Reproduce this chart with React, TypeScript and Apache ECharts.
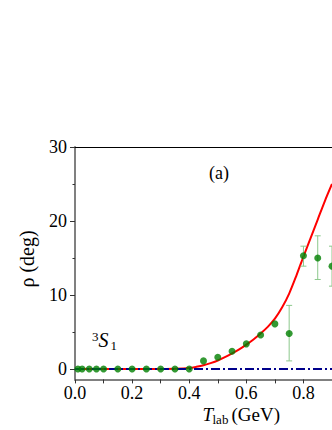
import React, { useEffect, useRef } from "react";
import * as echarts from "echarts";

const xTickLabels = [0, 0.2, 0.4, 0.6, 0.8];
const xTicks = [0, 0.1, 0.2, 0.3, 0.4, 0.5, 0.6, 0.7, 0.8, 0.9];
const yTickLabels = [0, 10, 20, 30];
const yMinorTicks = [5, 15, 25];

const dataX = [0.01, 0.025, 0.05, 0.075, 0.1, 0.15, 0.2, 0.25, 0.3, 0.35, 0.4, 0.45, 0.5, 0.55, 0.6, 0.65, 0.7, 0.75, 0.8, 0.85, 0.9];
const dataY = [0, 0, 0, 0, 0, 0, 0, 0, 0, 0, 0, 1.1, 1.6, 2.4, 3.4, 4.6, 6.1, 4.8, 15.3, 15.0, 13.9];

const errX = [0.75, 0.8, 0.85, 0.9];
const errLow = [1.1, 13.9, 12.1, 11.2];
const errHigh = [8.6, 16.6, 18.0, 16.6];

const curveX = [0, 0.1, 0.2, 0.3, 0.35, 0.4, 0.425, 0.45, 0.475, 0.5, 0.525, 0.55, 0.575, 0.6, 0.625, 0.65, 0.675, 0.7, 0.725, 0.75, 0.775, 0.8, 0.825, 0.85, 0.875, 0.9];
const curveY = [0, 0, 0, 0.02, 0.05, 0.15, 0.3, 0.5, 0.8, 1.15, 1.6, 2.1, 2.65, 3.3, 4.0, 4.8, 5.7, 6.8, 8.3, 10.2, 12.6, 15.2, 17.7, 20.2, 22.7, 25.0];

const refX = [0, 0.9];
const refY = [0, 0];

const FONT = "Liberation Serif";

export default function App() {
  const ref = useRef<HTMLDivElement>(null);
  useEffect(() => {
    if (!ref.current) return;
    const chart = echarts.init(ref.current, null, { renderer: "svg" });
    const errColor = "#8cc88c";
    const txt = (x: number, y: number, text: string, size: number, extra: any = {}) => ({
      type: "text",
      x,
      y,
      rotation: extra.rotation || 0,
      style: {
        text,
        font: `${extra.italic ? "italic " : ""}${size}px ${FONT}`,
        fill: "#000",
        align: extra.align || "left",
        verticalAlign: "middle",
      },
    });
    chart.setOption({
      animation: false,
      backgroundColor: "#ffffff",
      textStyle: { fontFamily: FONT },
      grid: { left: 75, top: 147, right: 0, bottom: 50.6 },
      xAxis: [
        {
          type: "value",
          position: "bottom",
          min: 0,
          max: 0.9,
          splitLine: { show: false },
          axisLine: { show: true, onZero: false, lineStyle: { color: "#808080", width: 2 } },
          axisTick: { show: true, customValues: xTicks, length: 4, lineStyle: { color: "#333", width: 1 } },
          axisLabel: {
            customValues: xTickLabels,
            formatter: (v: number) => v.toFixed(1),
            color: "#000",
            fontFamily: FONT,
            fontSize: 18,
            margin: 5,
          },
        },
        {
          type: "value",
          position: "top",
          min: 0,
          max: 0.9,
          splitLine: { show: false },
          axisLine: { show: true, onZero: false, lineStyle: { color: "#000", width: 1 } },
          axisTick: { show: false },
          axisLabel: { show: false },
        },
      ],
      yAxis: [
        {
          type: "value",
          min: -1.4,
          max: 30,
          splitLine: { show: false },
          axisLine: { show: true, onZero: false, lineStyle: { color: "#808080", width: 2 } },
          axisTick: { show: true, customValues: yTickLabels, length: 5, lineStyle: { color: "#333", width: 1 } },
          axisLabel: {
            customValues: yTickLabels,
            color: "#000",
            fontFamily: FONT,
            fontSize: 18,
            margin: 8,
          },
        },
        {
          type: "value",
          position: "left",
          min: -1.4,
          max: 30,
          splitLine: { show: false },
          axisLine: { show: false },
          axisTick: { show: true, customValues: yMinorTicks, length: 2.5, lineStyle: { color: "#333", width: 1 } },
          axisLabel: { show: false },
        },
      ],
      graphic: [
        txt(219, 173, "(a)", 18, { align: "center" }),
        txt(92, 336, "3", 13),
        txt(98.5, 340, "S", 20, { italic: true }),
        txt(110.5, 345, "1", 13),
        txt(27, 259, "ρ (deg)", 20, { align: "center", rotation: Math.PI / 2 }),
        txt(202.5, 414, "T", 19, { italic: true }),
        txt(212.5, 419, "lab", 13),
        txt(231.5, 414, "(GeV)", 19),
      ],
      series: [
        {
          name: "theory",
          type: "line",
          xAxisIndex: 0,
          yAxisIndex: 0,
          data: curveX.map((x, i) => [x, curveY[i]]),
          smooth: 0.3,
          showSymbol: false,
          symbol: "none",
          lineStyle: { color: "#ff0000", width: 2 },
          z: 2,
        },
        {
          name: "reference",
          type: "line",
          xAxisIndex: 0,
          yAxisIndex: 0,
          data: refX.map((x, i) => [x, refY[i]]),
          showSymbol: false,
          symbol: "none",
          lineStyle: { color: "#00008b", width: 2, type: [9, 3, 2, 3] },
          z: 3,
        },
        {
          name: "errors",
          type: "custom",
          xAxisIndex: 0,
          yAxisIndex: 0,
          clip: false,
          data: errX.map((x, i) => [x, errLow[i], errHigh[i]]),
          encode: { x: 0, y: [1, 2] },
          renderItem: (params: any, api: any) => {
            const x = api.value(0);
            const p1 = api.coord([x, api.value(1)]);
            const p2 = api.coord([x, api.value(2)]);
            const w = 3;
            const st = { stroke: errColor, lineWidth: 1 };
            return {
              type: "group",
              children: [
                { type: "line", shape: { x1: p1[0], y1: p1[1], x2: p2[0], y2: p2[1] }, style: st },
                { type: "line", shape: { x1: p1[0] - w, y1: p1[1], x2: p1[0] + w, y2: p1[1] }, style: st },
                { type: "line", shape: { x1: p2[0] - w, y1: p2[1], x2: p2[0] + w, y2: p2[1] }, style: st },
              ],
            };
          },
          z: 4,
        },
        {
          name: "data",
          type: "scatter",
          xAxisIndex: 0,
          yAxisIndex: 0,
          clip: false,
          data: dataX.map((x, i) => [x, dataY[i]]),
          symbol: "circle",
          symbolSize: 7,
          itemStyle: { color: "#008000" },
          z: 5,
        },
      ],
    });
    return () => chart.dispose();
  }, []);
  return (
    <div
      ref={ref}
      style={{ position: "fixed", left: 0, top: 0, width: 332, height: 430, overflow: "hidden" }}
    />
  );
}
